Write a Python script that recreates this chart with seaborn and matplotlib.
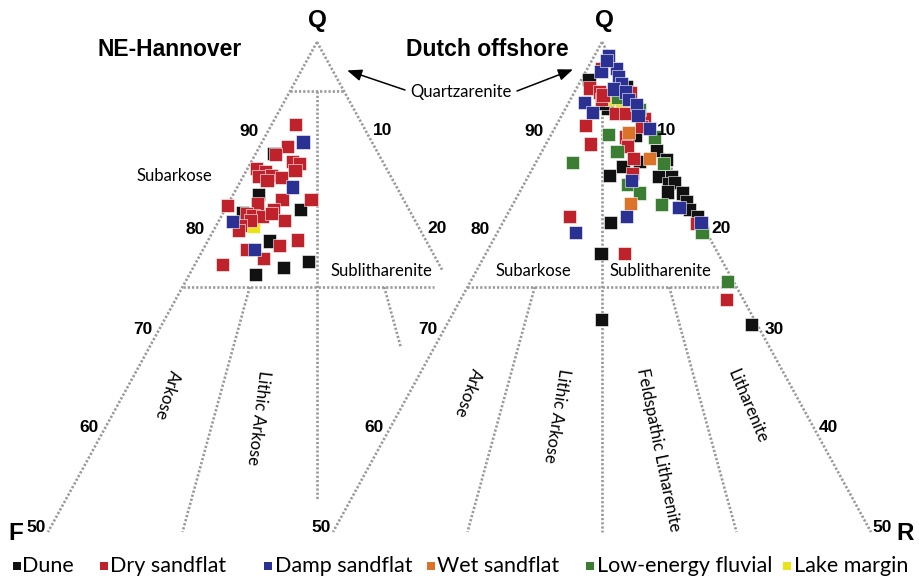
import matplotlib
matplotlib.use("Agg")
import numpy as np
import pandas as pd
import matplotlib.pyplot as plt
import seaborn as sns

sns.set_theme(style="white")
plt.rcParams["font.family"] = ["Liberation Sans", "DejaVu Sans"]
plt.rcParams["text.color"] = "black"

# ---------------------------------------------------------------- data
facies_names = ["Dune", "Dry sandflat", "Damp sandflat", "Wet sandflat",
                "Low-energy fluvial", "Lake margin"]
facies_colors = ["#111111", "#c0222c", "#2b3192", "#dd7328", "#3b7e33", "#ece21c"]
facies_codes = {"D": "Dune", "Y": "Dry sandflat", "P": "Damp sandflat",
                "W": "Wet sandflat", "L": "Low-energy fluvial", "M": "Lake margin"}

# NE-Hannover framework composition (%): quartz, feldspar, rock fragments
hann_facies = ["Y", "P", "Y", "D", "Y", "Y", "Y", "Y", "Y", "Y", "Y", "Y", "Y", "Y",
               "P", "D", "Y", "D", "Y", "Y", "Y", "D", "Y", "Y", "Y", "Y", "Y", "P",
               "Y", "Y", "M", "Y", "Y", "D", "Y", "Y", "Y", "P", "Y", "Y", "D", "D",
               "D", "D"]
hann_Q = [91.6, 89.8, 89.3, 88.6, 88.5, 87.8, 87.6, 86.9, 87.1, 86.8, 86.3, 86.4, 86.2, 85.9,
          85.2, 84.4, 83.5, 83.3, 83.9, 83.9, 83.3, 82.9, 82.9, 82.5, 82.3, 82.2, 82.5, 81.7,
          81.8, 81.3, 81.2, 81.8, 80.8, 79.7, 79.8, 79.2, 78.8, 78.8, 77.9, 77.3, 77.0, 77.6,
          76.3, 82.6]
hann_F = [6.2, 6.4, 8.1, 9.7, 9.6, 8.4, 7.8, 8.6, 12.1, 11.4, 12.3, 11.0, 10.2, 11.7,
          9.7, 13.2, 13.8, 13.9, 11.3, 8.6, 16.7, 10.1, 12.6, 15.3, 14.8, 14.0, 13.0, 17.0,
          15.3, 16.5, 15.3, 12.1, 16.9, 14.6, 11.9, 13.9, 17.1, 16.4, 16.0, 20.1, 14.6, 12.0,
          17.6, 15.6]
hann_R = [2.2, 3.8, 2.6, 1.7, 1.9, 3.8, 4.6, 4.5, 0.8, 1.8, 1.4, 2.6, 3.6, 2.4,
          5.1, 2.4, 2.7, 2.8, 4.8, 7.5, 0.0, 7.0, 4.5, 2.2, 2.9, 3.8, 4.5, 1.3,
          2.9, 2.2, 3.5, 6.1, 2.3, 5.7, 8.3, 6.9, 4.1, 4.8, 6.1, 2.6, 8.4, 10.4,
          6.1, 1.8]

# Dutch offshore framework composition (%)
dutch_facies = ["P", "P", "Y", "D", "P", "P", "P", "Y", "Y", "Y", "P", "P", "D", "Y",
                "P", "P", "P", "L", "Y", "P", "P", "D", "M", "M", "Y", "Y", "L", "Y",
                "Y", "L", "L", "L", "Y", "Y", "W", "D", "Y", "P", "L", "Y", "D", "D",
                "D", "W", "D", "L", "D", "Y", "P", "L", "L", "D", "D", "D", "D", "D",
                "D", "D", "D", "L", "W", "P", "P", "D", "Y", "P", "Y", "P", "L", "D",
                "D", "Y", "L", "Y", "D", "D", "D", "Y", "P"]
dutch_Q = [98.6, 97.0, 97.3, 96.2, 97.3, 96.5, 95.8, 95.3, 94.9, 94.1, 95.2, 94.9, 95.4, 94.8,
           94.1, 93.6, 92.5, 93.1, 92.2, 93.8, 92.8, 93.2, 94.1, 93.4, 92.7, 92.7, 94.3, 91.5,
           89.6, 87.7, 90.6, 88.8, 90.3, 89.3, 90.8, 90.5, 91.4, 91.2, 90.3, 88.1, 87.3, 87.8,
           88.9, 88.1, 88.0, 87.6, 86.4, 86.6, 85.9, 85.5, 84.6, 86.3, 86.3, 85.6, 85.7, 84.7,
           84.6, 83.7, 82.9, 83.4, 83.5, 83.1, 82.2, 81.6, 82.2, 80.6, 81.5, 81.6, 80.6, 82.2,
           78.4, 78.4, 75.6, 73.7, 71.7, 71.2, 93.7, 94.6, 98.1]
dutch_F = [0.1, 1.6, 1.4, 3.1, 0.0, 0.2, 0.3, 3.5, 2.8, 3.0, 1.3, 0.4, 0.0, 0.0,
           0.5, 0.0, 0.4, 0.0, 0.0, 4.7, 4.5, 2.9, 2.1, 1.5, 2.4, 1.5, 1.4, 5.8,
           6.3, 8.9, 4.1, 4.2, 2.7, 3.0, 2.1, 1.6, 0.6, 0.0, 0.0, 3.0, 4.4, 2.6,
           0.5, 1.5, 0.0, 0.5, 6.1, 3.9, 4.3, 4.9, 4.2, 1.6, 0.4, 1.0, 0.4, 1.6,
           0.2, 0.3, 0.4, 2.8, 5.6, 1.3, 6.6, 8.4, 11.9, 12.2, 0.5, 0.0, 0.4, 0.0,
           10.9, 8.7, 0.5, 1.6, 14.2, 0.5, 3.0, 2.6, 0.5]
dutch_R = [1.3, 1.4, 1.3, 0.7, 2.7, 3.3, 3.9, 1.2, 2.3, 2.9, 3.5, 4.7, 4.6, 5.2,
           5.4, 6.4, 7.1, 6.9, 7.8, 1.5, 2.7, 3.9, 3.8, 5.1, 4.9, 5.8, 4.3, 2.7,
           4.1, 3.4, 5.3, 7.0, 7.0, 7.7, 7.1, 7.9, 8.0, 8.8, 9.7, 8.9, 8.3, 9.6,
           10.6, 10.4, 12.0, 11.9, 7.5, 9.5, 9.8, 9.6, 11.2, 12.1, 13.3, 13.4, 13.9, 13.7,
           15.2, 16.0, 16.7, 13.8, 10.9, 15.6, 11.2, 10.0, 5.9, 7.2, 18.0, 18.4, 19.0, 17.8,
           10.7, 12.9, 23.9, 24.7, 14.1, 28.3, 3.3, 2.8, 1.4]

left_edge_ticks = [90, 80, 70, 60, 50]
right_edge_ticks_hann = [10, 20]
right_edge_ticks_dutch = [10, 20, 30, 40, 50]

# ---------------------------------------------------------------- layout
W, H = 920, 579
SX, SY = 10.76, 9.8            # pixels per ternary unit (x) and per % quartz (y)
APEX_Y = 42
XLIM, YLIM = (-28.0, 28.0), (45.5, 104.0)
LINE_KW = dict(color="#9a9a9a", lw=1.9, ls=(0, (0.85, 0.75)),
               dash_capstyle="butt", zorder=1, clip_on=False)
BOLD = dict(family=["Liberation Sans", "DejaVu Sans"], fontweight="bold", color="black")
LABEL_FONT = ["Lato", "DejaVu Sans"]
draw_rank = {"Dune": 0, "Lake margin": 1, "Dry sandflat": 2,
             "Low-energy fluvial": 3, "Wet sandflat": 4, "Damp sandflat": 5}

fig = plt.figure(figsize=(W / 100, H / 100), dpi=100)


def panel_axes(apex_x):
    left = apex_x + XLIM[0] * SX
    top = APEX_Y - (YLIM[1] - 100) * SY
    w = (XLIM[1] - XLIM[0]) * SX
    h = (YLIM[1] - YLIM[0]) * SY
    ax = fig.add_axes([left / W, 1 - (top + h) / H, w / W, h / H])
    ax.set_xlim(*XLIM)
    ax.set_ylim(*YLIM)
    ax.axis("off")
    ax.patch.set_visible(False)
    return ax


def tern(Q, F, R):
    Q, F, R = (np.asarray(v, dtype=float) for v in (Q, F, R))
    tot = Q + F + R
    return 50.0 * (R - F) / tot, 100.0 * Q / tot


def on_ray(q, f_share):
    """Composition with quartz q and feldspar share F/(F+R) = f_share."""
    return (q, (100 - q) * f_share, (100 - q) * (1 - f_share))


def boundary(ax, a, b):
    x0, y0 = tern(*a)
    x1, y1 = tern(*b)
    ax.plot([x0, x1], [y0, y1], **LINE_KW)


def tick(ax, comp, text, dx, dy):
    x, y = tern(*comp)
    ax.annotate(text, (x, y), xytext=(dx, dy), textcoords="offset pixels",
                ha="center", va="center", fontsize=12.5, annotation_clip=False, **BOLD)


def samples(facies, Q, F, R):
    x, y = tern(Q, F, R)
    df = pd.DataFrame({"facies": [facies_codes[c] for c in facies], "x": x, "y": y})
    df["rank"] = df["facies"].map(draw_rank)
    return df.sort_values("rank", kind="stable")


def scatter(ax, df):
    sns.scatterplot(data=df, x="x", y="y", hue="facies", hue_order=facies_names,
                    palette=facies_colors, marker="s", s=90, edgecolor="white",
                    linewidth=0.4, legend=False, ax=ax, zorder=3, clip_on=False)


def region_label(ax, x, y, text, rot=0):
    ax.text(x, y, text, ha="center", va="center", rotation=rot,
            rotation_mode="anchor", fontsize=12, family=LABEL_FONT, color="black")


# ---------------------------------------------------------------- NE-Hannover
axL = panel_axes(317)
boundary(axL, (100, 0, 0), (50, 50, 0))
boundary(axL, (100, 0, 0), on_ray(76.6, 0.0))
boundary(axL, on_ray(95, 1.0), on_ray(95, 0.0))
boundary(axL, on_ray(95, 0.5), on_ray(53.3, 0.5))
boundary(axL, on_ray(75, 1.0), on_ray(75, 0.065))
boundary(axL, on_ray(75, 0.75), on_ray(50, 0.75))
boundary(axL, on_ray(75, 0.25), on_ray(68.9, 0.25))
scatter(axL, samples(hann_facies, hann_Q, hann_F, hann_R))

for q in left_edge_ticks:
    off = (-14, 8) if q >= 80 else ((-13, 6) if q > 50 else (-12, 4))
    tick(axL, (q, 100 - q, 0), str(q), *off)
for r in right_edge_ticks_hann:
    tick(axL, (100 - r, 0, r), str(r), 12, 9)
x0, y0 = tern(100, 0, 0)
axL.annotate("Q", (x0, y0), xytext=(0, 21), textcoords="offset pixels",
             ha="center", va="center", fontsize=17.5, annotation_clip=False, **BOLD)
x0, y0 = tern(50, 50, 0)
axL.annotate("F", (x0, y0), xytext=(-32, -1), textcoords="offset pixels",
             ha="center", va="center", fontsize=17.5, annotation_clip=False, **BOLD)

region_label(axL, -13.3, 86.3, "Subarkose")
region_label(axL, 6.0, 76.6, "Sublitharenite")
region_label(axL, -13.9, 64.0, "Arkose", -107)
region_label(axL, -5.5, 61.7, "Lithic Arkose", -97)

# ---------------------------------------------------------------- Dutch offshore
axR = panel_axes(602)
boundary(axR, (100, 0, 0), (50, 50, 0))
boundary(axR, (100, 0, 0), (50, 0, 50))
boundary(axR, on_ray(95, 0.5), on_ray(50, 0.5))
boundary(axR, on_ray(75, 1.0), on_ray(75, 0.0))
boundary(axR, on_ray(75, 0.75), on_ray(50, 0.75))
boundary(axR, on_ray(75, 0.25), on_ray(50, 0.25))
scatter(axR, samples(dutch_facies, dutch_Q, dutch_F, dutch_R))

for q in left_edge_ticks:
    off = (-14, 8) if q >= 80 else ((-13, 6) if q > 50 else (-12, 4))
    tick(axR, (q, 100 - q, 0), str(q), *off)
for r in right_edge_ticks_dutch:
    off = (11, 9) if r <= 20 else ((11, 6) if r < 50 else (11, 4))
    tick(axR, (100 - r, 0, r), str(r), *off)
x0, y0 = tern(100, 0, 0)
axR.annotate("Q", (x0, y0), xytext=(2, 21), textcoords="offset pixels",
             ha="center", va="center", fontsize=17.5, annotation_clip=False, **BOLD)
x0, y0 = tern(50, 0, 50)
axR.annotate("R", (x0, y0), xytext=(34, -1), textcoords="offset pixels",
             ha="center", va="center", fontsize=17.5, annotation_clip=False, **BOLD)

region_label(axR, -6.4, 76.6, "Subarkose")
region_label(axR, 5.4, 76.6, "Sublitharenite")
region_label(axR, -12.5, 64.2, "Arkose", -110)
region_label(axR, -4.2, 61.9, "Lithic Arkose", -99)
region_label(axR, 5.2, 58.4, "Feldspathic Litharenite", -78.5)
region_label(axR, 13.5, 62.8, "Litharenite", -67)

# ---------------------------------------------------------------- titles & shared label
fig.text(170 / W, 1 - 50 / H, "NE-Hannover", ha="center", va="center", fontsize=16.5, **BOLD)
fig.text(487 / W, 1 - 50 / H, "Dutch offshore", ha="center", va="center", fontsize=16.5, **BOLD)
fig.text(461 / W, 1 - 92 / H, "Quartzarenite", ha="center", va="center",
         fontsize=12, family=LABEL_FONT, color="black")
arrow = dict(arrowstyle="-|>,head_length=0.55,head_width=0.22", color="black", lw=1.1,
             mutation_scale=16, shrinkA=0, shrinkB=0)
axL.annotate("", xy=(2.8, 97.1), xycoords="data",
             xytext=(405 / W, 1 - 90 / H), textcoords="figure fraction",
             arrowprops=arrow, annotation_clip=False)
axR.annotate("", xy=(-2.7, 97.2), xycoords="data",
             xytext=(517 / W, 1 - 91 / H), textcoords="figure fraction",
             arrowprops=arrow, annotation_clip=False)

# ---------------------------------------------------------------- legend row
key_x = [17, 104, 268.5, 431.5, 590, 787]
text_x = [22.5, 110, 275, 437, 597, 794]
leg = fig.add_axes([0, 0, 1, 1])
leg.set_xlim(0, W)
leg.set_ylim(H, 0)
leg.axis("off")
leg.patch.set_visible(False)
for name, color, kx, tx in zip(facies_names, facies_colors, key_x, text_x):
    leg.scatter([kx], [566], marker="s", s=34, color=color, linewidths=0)
    leg.text(tx, 566, name, ha="left", va="center", fontsize=15.5,
             family=LABEL_FONT, color="black")

fig.savefig("out.png", dpi=100)
